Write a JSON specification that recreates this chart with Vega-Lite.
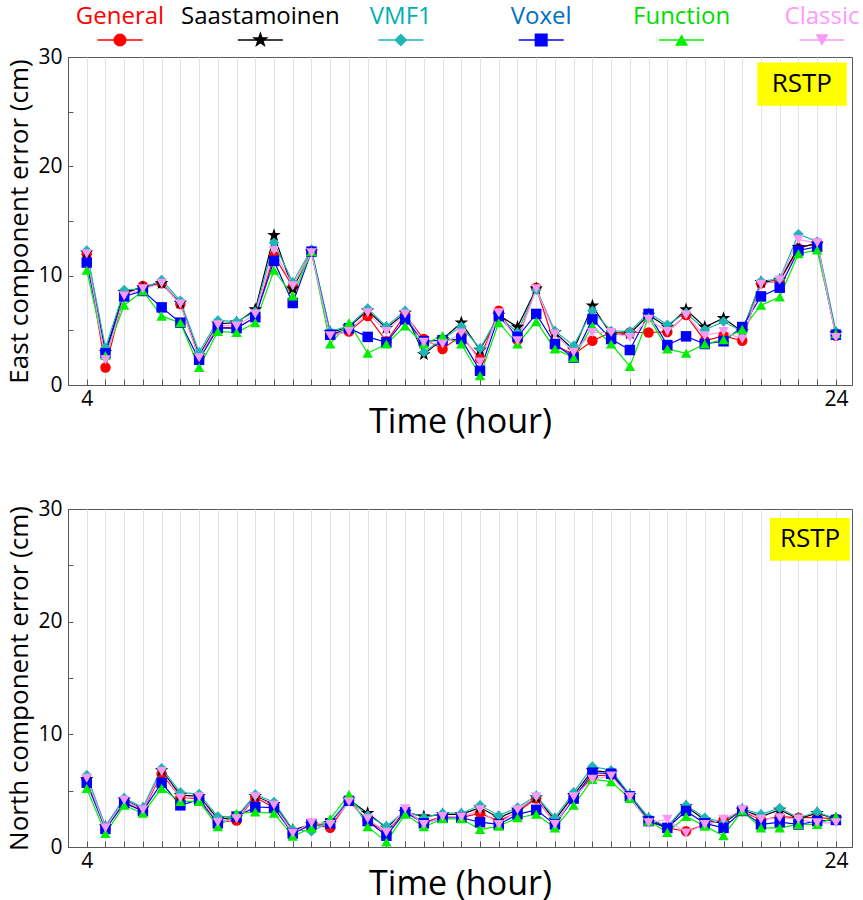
{
  "$schema": "https://vega.github.io/schema/vega-lite/v6.json",
  "padding": {"top": 4, "left": 6, "right": 0, "bottom": 0},
  "background": "white",
  "spacing": -3,
  "config": {
    "font": "Open Sans",
    "view": {"stroke": "#595959", "strokeWidth": 1},
    "axis": {"domainColor": "#595959", "tickColor": "#595959", "labelColor": "#000000", "titleColor": "#000000", "titleFontWeight": "normal", "labelFontSize": 21, "labelFont": "Open Sans", "titleFont": "Open Sans"}
  },
  "datasets": {
    "err": [
      {"c":"E","t":4,"General":12.0,"Saastamoinen":12.1,"VMF1":12.3,"Voxel":11.2,"Function":10.5,"Classic":12.0},
      {"c":"E","t":4.5,"General":1.6,"Saastamoinen":3.0,"VMF1":3.4,"Voxel":2.9,"Function":2.7,"Classic":2.3},
      {"c":"E","t":5,"General":8.3,"Saastamoinen":8.5,"VMF1":8.7,"Voxel":8.1,"Function":7.3,"Classic":8.15},
      {"c":"E","t":5.5,"General":9.05,"Saastamoinen":8.9,"VMF1":8.8,"Voxel":8.6,"Function":8.6,"Classic":8.8},
      {"c":"E","t":6,"General":9.3,"Saastamoinen":9.3,"VMF1":9.6,"Voxel":7.1,"Function":6.3,"Classic":9.3},
      {"c":"E","t":6.5,"General":7.4,"Saastamoinen":7.5,"VMF1":7.7,"Voxel":5.7,"Function":5.7,"Classic":7.4},
      {"c":"E","t":7,"General":2.5,"Saastamoinen":2.7,"VMF1":3.0,"Voxel":2.3,"Function":1.6,"Classic":2.5},
      {"c":"E","t":7.5,"General":5.3,"Saastamoinen":5.6,"VMF1":5.9,"Voxel":5.2,"Function":4.9,"Classic":5.5},
      {"c":"E","t":8,"General":5.2,"Saastamoinen":5.7,"VMF1":5.8,"Voxel":5.2,"Function":4.8,"Classic":5.4},
      {"c":"E","t":8.5,"General":6.2,"Saastamoinen":6.9,"VMF1":6.7,"Voxel":6.2,"Function":5.7,"Classic":6.5},
      {"c":"E","t":9,"General":11.8,"Saastamoinen":13.7,"VMF1":13.0,"Voxel":11.35,"Function":10.5,"Classic":12.3},
      {"c":"E","t":9.5,"General":9.0,"Saastamoinen":8.8,"VMF1":9.4,"Voxel":7.5,"Function":8.15,"Classic":9.07},
      {"c":"E","t":10,"General":12.2,"Saastamoinen":12.2,"VMF1":12.4,"Voxel":12.2,"Function":12.2,"Classic":12.1},
      {"c":"E","t":10.5,"General":4.6,"Saastamoinen":4.8,"VMF1":4.9,"Voxel":4.6,"Function":3.75,"Classic":4.5},
      {"c":"E","t":11,"General":4.9,"Saastamoinen":5.3,"VMF1":5.4,"Voxel":5.2,"Function":5.7,"Classic":4.9},
      {"c":"E","t":11.5,"General":6.3,"Saastamoinen":6.8,"VMF1":7.0,"Voxel":4.4,"Function":2.9,"Classic":6.6},
      {"c":"E","t":12,"General":4.0,"Saastamoinen":5.2,"VMF1":5.35,"Voxel":3.9,"Function":3.75,"Classic":4.9},
      {"c":"E","t":12.5,"General":6.4,"Saastamoinen":6.6,"VMF1":6.8,"Voxel":6.0,"Function":5.4,"Classic":6.5},
      {"c":"E","t":13,"General":4.2,"Saastamoinen":2.8,"VMF1":3.0,"Voxel":4.0,"Function":3.75,"Classic":3.9},
      {"c":"E","t":13.5,"General":3.3,"Saastamoinen":4.2,"VMF1":4.2,"Voxel":4.1,"Function":4.5,"Classic":3.75},
      {"c":"E","t":14,"General":4.5,"Saastamoinen":5.7,"VMF1":5.35,"Voxel":4.2,"Function":3.75,"Classic":4.75},
      {"c":"E","t":14.5,"General":2.4,"Saastamoinen":3.2,"VMF1":3.35,"Voxel":1.3,"Function":0.85,"Classic":2.1},
      {"c":"E","t":15,"General":6.8,"Saastamoinen":6.4,"VMF1":6.3,"Voxel":6.3,"Function":5.7,"Classic":6.6},
      {"c":"E","t":15.5,"General":4.1,"Saastamoinen":5.3,"VMF1":4.8,"Voxel":4.4,"Function":3.75,"Classic":4.05},
      {"c":"E","t":16,"General":8.9,"Saastamoinen":8.8,"VMF1":8.7,"Voxel":6.5,"Function":5.8,"Classic":8.8},
      {"c":"E","t":16.5,"General":3.6,"Saastamoinen":4.8,"VMF1":4.95,"Voxel":3.75,"Function":3.3,"Classic":4.65},
      {"c":"E","t":17,"General":2.8,"Saastamoinen":3.2,"VMF1":3.6,"Voxel":2.5,"Function":2.5,"Classic":3.0},
      {"c":"E","t":17.5,"General":4.05,"Saastamoinen":7.25,"VMF1":6.8,"Voxel":6.0,"Function":5.4,"Classic":4.8},
      {"c":"E","t":18,"General":4.8,"Saastamoinen":4.6,"VMF1":4.95,"Voxel":4.2,"Function":3.75,"Classic":4.8},
      {"c":"E","t":18.5,"General":4.8,"Saastamoinen":4.7,"VMF1":4.9,"Voxel":3.2,"Function":1.7,"Classic":4.35},
      {"c":"E","t":19,"General":4.8,"Saastamoinen":6.4,"VMF1":6.6,"Voxel":6.5,"Function":6.2,"Classic":6.0},
      {"c":"E","t":19.5,"General":4.85,"Saastamoinen":5.3,"VMF1":5.5,"Voxel":3.65,"Function":3.3,"Classic":4.9},
      {"c":"E","t":20,"General":6.4,"Saastamoinen":6.9,"VMF1":6.6,"Voxel":4.45,"Function":2.9,"Classic":6.4},
      {"c":"E","t":20.5,"General":4.05,"Saastamoinen":5.3,"VMF1":5.05,"Voxel":3.75,"Function":3.75,"Classic":4.5},
      {"c":"E","t":21,"General":4.5,"Saastamoinen":6.1,"VMF1":5.8,"Voxel":4.0,"Function":4.15,"Classic":4.9},
      {"c":"E","t":21.5,"General":4.05,"Saastamoinen":4.9,"VMF1":4.9,"Voxel":5.3,"Function":5.1,"Classic":4.2},
      {"c":"E","t":22,"General":9.3,"Saastamoinen":9.4,"VMF1":9.5,"Voxel":8.1,"Function":7.3,"Classic":9.2},
      {"c":"E","t":22.5,"General":9.5,"Saastamoinen":9.6,"VMF1":9.7,"Voxel":8.9,"Function":8.05,"Classic":9.6},
      {"c":"E","t":23,"General":12.5,"Saastamoinen":12.6,"VMF1":13.8,"Voxel":12.3,"Function":12.0,"Classic":13.3},
      {"c":"E","t":23.5,"General":13.0,"Saastamoinen":12.9,"VMF1":13.1,"Voxel":12.65,"Function":12.35,"Classic":13.0},
      {"c":"E","t":24,"General":4.5,"Saastamoinen":4.7,"VMF1":4.9,"Voxel":4.6,"Function":4.7,"Classic":4.35},
      {"c":"N","t":4,"General":6.0,"Saastamoinen":6.0,"VMF1":6.4,"Voxel":5.7,"Function":5.2,"Classic":6.1},
      {"c":"N","t":4.5,"General":1.6,"Saastamoinen":1.8,"VMF1":1.85,"Voxel":1.6,"Function":1.2,"Classic":1.7},
      {"c":"N","t":5,"General":4.0,"Saastamoinen":4.2,"VMF1":4.35,"Voxel":3.9,"Function":3.7,"Classic":4.15},
      {"c":"N","t":5.5,"General":3.2,"Saastamoinen":3.4,"VMF1":3.5,"Voxel":3.2,"Function":3.0,"Classic":3.3},
      {"c":"N","t":6,"General":6.5,"Saastamoinen":6.8,"VMF1":7.0,"Voxel":5.7,"Function":5.2,"Classic":6.7},
      {"c":"N","t":6.5,"General":4.4,"Saastamoinen":4.6,"VMF1":4.85,"Voxel":3.7,"Function":4.05,"Classic":4.35},
      {"c":"N","t":7,"General":4.3,"Saastamoinen":4.5,"VMF1":4.7,"Voxel":4.2,"Function":4.05,"Classic":4.45},
      {"c":"N","t":7.5,"General":2.2,"Saastamoinen":2.5,"VMF1":2.7,"Voxel":2.1,"Function":1.8,"Classic":2.2},
      {"c":"N","t":8,"General":2.35,"Saastamoinen":2.6,"VMF1":2.7,"Voxel":2.7,"Function":3.0,"Classic":2.5},
      {"c":"N","t":8.5,"General":4.4,"Saastamoinen":4.5,"VMF1":4.65,"Voxel":3.55,"Function":3.1,"Classic":4.45},
      {"c":"N","t":9,"General":3.5,"Saastamoinen":3.8,"VMF1":4.0,"Voxel":3.5,"Function":3.0,"Classic":3.7},
      {"c":"N","t":9.5,"General":1.2,"Saastamoinen":1.5,"VMF1":1.55,"Voxel":1.2,"Function":0.95,"Classic":1.25},
      {"c":"N","t":10,"General":2.0,"Saastamoinen":2.0,"VMF1":1.4,"Voxel":2.0,"Function":1.7,"Classic":2.15},
      {"c":"N","t":10.5,"General":1.7,"Saastamoinen":2.1,"VMF1":2.2,"Voxel":2.1,"Function":2.5,"Classic":2.0},
      {"c":"N","t":11,"General":4.1,"Saastamoinen":4.2,"VMF1":4.2,"Voxel":4.1,"Function":4.65,"Classic":4.0},
      {"c":"N","t":11.5,"General":2.3,"Saastamoinen":3.0,"VMF1":2.8,"Voxel":2.3,"Function":1.8,"Classic":2.5},
      {"c":"N","t":12,"General":1.3,"Saastamoinen":1.7,"VMF1":1.85,"Voxel":1.0,"Function":0.45,"Classic":1.3},
      {"c":"N","t":12.5,"General":3.2,"Saastamoinen":3.1,"VMF1":3.2,"Voxel":3.1,"Function":2.9,"Classic":3.4},
      {"c":"N","t":13,"General":2.2,"Saastamoinen":2.7,"VMF1":2.6,"Voxel":2.1,"Function":1.8,"Classic":2.0},
      {"c":"N","t":13.5,"General":2.7,"Saastamoinen":2.9,"VMF1":3.0,"Voxel":2.6,"Function":2.5,"Classic":2.7},
      {"c":"N","t":14,"General":2.6,"Saastamoinen":2.9,"VMF1":3.0,"Voxel":2.6,"Function":2.5,"Classic":2.65},
      {"c":"N","t":14.5,"General":3.0,"Saastamoinen":3.5,"VMF1":3.7,"Voxel":2.2,"Function":1.55,"Classic":3.3},
      {"c":"N","t":15,"General":2.3,"Saastamoinen":2.6,"VMF1":2.8,"Voxel":2.0,"Function":1.85,"Classic":2.0},
      {"c":"N","t":15.5,"General":3.1,"Saastamoinen":3.3,"VMF1":3.5,"Voxel":2.9,"Function":2.6,"Classic":3.3},
      {"c":"N","t":16,"General":4.3,"Saastamoinen":4.4,"VMF1":4.55,"Voxel":3.3,"Function":2.9,"Classic":4.45},
      {"c":"N","t":16.5,"General":2.1,"Saastamoinen":2.4,"VMF1":2.6,"Voxel":2.0,"Function":1.7,"Classic":2.0},
      {"c":"N","t":17,"General":4.3,"Saastamoinen":4.6,"VMF1":4.85,"Voxel":4.3,"Function":3.7,"Classic":4.45},
      {"c":"N","t":17.5,"General":6.3,"Saastamoinen":6.8,"VMF1":7.15,"Voxel":6.6,"Function":6.0,"Classic":6.0},
      {"c":"N","t":18,"General":6.4,"Saastamoinen":6.6,"VMF1":6.8,"Voxel":6.5,"Function":5.8,"Classic":6.3},
      {"c":"N","t":18.5,"General":4.5,"Saastamoinen":4.6,"VMF1":4.65,"Voxel":4.5,"Function":4.3,"Classic":4.45},
      {"c":"N","t":19,"General":2.3,"Saastamoinen":2.5,"VMF1":2.6,"Voxel":2.3,"Function":2.3,"Classic":2.15},
      {"c":"N","t":19.5,"General":1.7,"Saastamoinen":1.7,"VMF1":1.8,"Voxel":1.7,"Function":1.3,"Classic":2.45},
      {"c":"N","t":20,"General":1.4,"Saastamoinen":3.6,"VMF1":3.7,"Voxel":3.2,"Function":2.7,"Classic":1.25},
      {"c":"N","t":20.5,"General":2.0,"Saastamoinen":2.4,"VMF1":2.6,"Voxel":2.1,"Function":1.85,"Classic":2.0},
      {"c":"N","t":21,"General":2.4,"Saastamoinen":2.1,"VMF1":2.2,"Voxel":1.7,"Function":1.0,"Classic":2.45},
      {"c":"N","t":21.5,"General":3.2,"Saastamoinen":3.3,"VMF1":3.4,"Voxel":3.2,"Function":3.2,"Classic":3.3},
      {"c":"N","t":22,"General":2.4,"Saastamoinen":2.7,"VMF1":2.9,"Voxel":2.0,"Function":1.7,"Classic":2.45},
      {"c":"N","t":22.5,"General":2.7,"Saastamoinen":3.3,"VMF1":3.45,"Voxel":2.2,"Function":1.7,"Classic":2.6},
      {"c":"N","t":23,"General":2.6,"Saastamoinen":2.5,"VMF1":2.6,"Voxel":2.0,"Function":2.0,"Classic":2.45},
      {"c":"N","t":23.5,"General":2.6,"Saastamoinen":3.0,"VMF1":3.1,"Voxel":2.3,"Function":2.0,"Classic":2.15},
      {"c":"N","t":24,"General":2.5,"Saastamoinen":2.5,"VMF1":2.5,"Voxel":2.4,"Function":2.7,"Classic":2.15}
    ],
    "names": [
      {"series": "General"}, {"series": "Saastamoinen"}, {"series": "VMF1"}, {"series": "Voxel"}, {"series": "Function"}, {"series": "Classic"}
    ],
    "tag": [{"label": "RSTP"}]
  },
  "vconcat": [
    {
      "width": 784,
      "height": 44,
      "view": {"stroke": null},
      "data": {"name": "names"},
      "encoding": {
        "x": {"field": "series", "type": "nominal", "axis": null,
              "scale": {"type": "point", "domain": ["General","Saastamoinen","VMF1","Voxel","Function","Classic"], "padding": 0.292, "align": 0.634}}
      },
      "layer": [
        {
          "mark": {"type": "point", "shape": "M-1,0L1,0", "filled": false, "size": 2025, "strokeWidth": 1.5, "opacity": 1, "yOffset": 14},
          "encoding": {
            "color": {"field": "series", "type": "nominal", "legend": null,
                      "scale": {"domain": ["General","Saastamoinen","VMF1","Voxel","Function","Classic"], "range": ["#FF0000","#000000","#1FB5B5","#0000FF","#00EE00","#F79AF7"]}}
          }
        },
        {
          "mark": {"type": "point", "filled": true, "size": 170, "opacity": 1, "yOffset": 14},
          "encoding": {
            "color": {"field": "series", "type": "nominal", "legend": null,
                      "scale": {"domain": ["General","Saastamoinen","VMF1","Voxel","Function","Classic"], "range": ["#FF0000","#000000","#1FB5B5","#0000FF","#00EE00","#F79AF7"]}},
            "shape": {"field": "series", "type": "nominal", "legend": null,
                      "scale": {"domain": ["General","Saastamoinen","VMF1","Voxel","Function","Classic"], "range": ["circle","M0,-1.35L0.317,-0.437L1.284,-0.417L0.513,0.167L0.794,1.092L0,0.54L-0.794,1.092L-0.513,0.167L-1.284,-0.417L-0.317,-0.437Z","diamond","square","triangle-up","triangle-down"]}}
          }
        },
        {
          "mark": {"type": "text", "fontSize": 24, "font": "Open Sans", "dy": -9, "baseline": "middle", "align": "center"},
          "encoding": {
            "text": {"field": "series"},
            "fill": {"field": "series", "type": "nominal", "legend": null,
                     "scale": {"domain": ["General","Saastamoinen","VMF1","Voxel","Function","Classic"], "range": ["#FF0000","#000000","#00B0B0","#0070C0","#00DD00","#FF99FF"]}}
          }
        }
      ]
    },
    {
      "spacing": 57,
      "vconcat": [
        {
          "width": 784,
          "height": 328,
          "layer": [
            {
              "data": {"name": "tag"},
              "mark": {"type": "rect", "color": "#FFFF00"},
              "encoding": {
                "x": {"datum": 21.9, "type": "quantitative"}, "x2": {"datum": 24.29},
                "y": {"datum": 29.5, "type": "quantitative"}, "y2": {"datum": 25.55}
              }
            },
            {
              "data": {"name": "tag"},
              "mark": {"type": "text", "fontSize": 26, "font": "Open Sans", "color": "#000000"},
              "encoding": {
                "x": {"datum": 23.09, "type": "quantitative"},
                "y": {"datum": 27.55, "type": "quantitative"},
                "text": {"field": "label"}
              }
            },
            {
              "data": {"name": "err"},
              "transform": [
                {"filter": "datum.c == 'E'"},
                {"fold": ["General","Saastamoinen","VMF1","Voxel","Function","Classic"], "as": ["series","v"]}
              ],
              "layer": [
                {
                  "mark": {"type": "line", "strokeWidth": 1.2},
                  "encoding": {
                    "x": {"field": "t", "type": "quantitative"},
                    "y": {"field": "v", "type": "quantitative"},
                    "color": {"field": "series", "type": "nominal", "legend": null,
                              "scale": {"domain": ["General","Saastamoinen","VMF1","Voxel","Function","Classic"], "range": ["#FF0000","#000000","#1FB5B5","#0000FF","#00EE00","#F79AF7"]}}
                  }
                },
                {
                  "mark": {"type": "point", "filled": true, "size": 110, "opacity": 1},
                  "encoding": {
                    "x": {"field": "t", "type": "quantitative"},
                    "y": {"field": "v", "type": "quantitative"},
                    "color": {"field": "series", "type": "nominal", "legend": null,
                              "scale": {"domain": ["General","Saastamoinen","VMF1","Voxel","Function","Classic"], "range": ["#FF0000","#000000","#1FB5B5","#0000FF","#00EE00","#F79AF7"]}},
                    "shape": {"field": "series", "type": "nominal", "legend": null,
                              "scale": {"domain": ["General","Saastamoinen","VMF1","Voxel","Function","Classic"], "range": ["circle","M0,-1.35L0.317,-0.437L1.284,-0.417L0.513,0.167L0.794,1.092L0,0.54L-0.794,1.092L-0.513,0.167L-1.284,-0.417L-0.317,-0.437Z","diamond","square","triangle-up","triangle-down"]}}
                  }
                }
              ]
            }
          ],
          "encoding": {
            "x": {"type": "quantitative",
                  "scale": {"domain": [3.5, 24.43], "nice": false, "zero": false},
                  "axis": {"title": "Time (hour)", "titleFontSize": 34, "titlePadding": -4,
                           "values": [4,4.5,5,5.5,6,6.5,7,7.5,8,8.5,9,9.5,10,10.5,11,11.5,12,12.5,13,13.5,14,14.5,15,15.5,16,16.5,17,17.5,18,18.5,19,19.5,20,20.5,21,21.5,22,22.5,23,23.5,24],
                           "labelExpr": "datum.value == 4 ? '4' : (datum.value == 24 ? '24' : '')",
                           "labelOverlap": false, "labelFlush": false,
                           "grid": true, "gridColor": "#E3E3E3", "gridWidth": 1,
                           "tickSize": -6, "labelPadding": 9}},
            "y": {"type": "quantitative",
                  "scale": {"domain": [0, 30], "nice": false},
                  "axis": {"title": "East component error (cm)", "titleFontSize": 26, "titlePadding": 5,
                           "values": [0,5,10,15,20,25,30],
                           "labelExpr": "datum.value % 10 == 0 ? datum.label : ''",
                           "grid": false, "tickSize": -5, "labelPadding": 11}}
          }
        },
        {
          "width": 784,
          "height": 338,
          "layer": [
            {
              "data": {"name": "tag"},
              "mark": {"type": "rect", "color": "#FFFF00"},
              "encoding": {
                "x": {"datum": 22.24, "type": "quantitative"}, "x2": {"datum": 24.37},
                "y": {"datum": 29.2, "type": "quantitative"}, "y2": {"datum": 25.4}
              }
            },
            {
              "data": {"name": "tag"},
              "mark": {"type": "text", "fontSize": 26, "font": "Open Sans", "color": "#000000"},
              "encoding": {
                "x": {"datum": 23.31, "type": "quantitative"},
                "y": {"datum": 27.3, "type": "quantitative"},
                "text": {"field": "label"}
              }
            },
            {
              "data": {"name": "err"},
              "transform": [
                {"filter": "datum.c == 'N'"},
                {"fold": ["General","Saastamoinen","VMF1","Voxel","Function","Classic"], "as": ["series","v"]}
              ],
              "layer": [
                {
                  "mark": {"type": "line", "strokeWidth": 1.2},
                  "encoding": {
                    "x": {"field": "t", "type": "quantitative"},
                    "y": {"field": "v", "type": "quantitative"},
                    "color": {"field": "series", "type": "nominal", "legend": null,
                              "scale": {"domain": ["General","Saastamoinen","VMF1","Voxel","Function","Classic"], "range": ["#FF0000","#000000","#1FB5B5","#0000FF","#00EE00","#F79AF7"]}}
                  }
                },
                {
                  "mark": {"type": "point", "filled": true, "size": 110, "opacity": 1},
                  "encoding": {
                    "x": {"field": "t", "type": "quantitative"},
                    "y": {"field": "v", "type": "quantitative"},
                    "color": {"field": "series", "type": "nominal", "legend": null,
                              "scale": {"domain": ["General","Saastamoinen","VMF1","Voxel","Function","Classic"], "range": ["#FF0000","#000000","#1FB5B5","#0000FF","#00EE00","#F79AF7"]}},
                    "shape": {"field": "series", "type": "nominal", "legend": null,
                              "scale": {"domain": ["General","Saastamoinen","VMF1","Voxel","Function","Classic"], "range": ["circle","M0,-1.35L0.317,-0.437L1.284,-0.417L0.513,0.167L0.794,1.092L0,0.54L-0.794,1.092L-0.513,0.167L-1.284,-0.417L-0.317,-0.437Z","diamond","square","triangle-up","triangle-down"]}}
                  }
                }
              ]
            }
          ],
          "encoding": {
            "x": {"type": "quantitative",
                  "scale": {"domain": [3.5, 24.43], "nice": false, "zero": false},
                  "axis": {"title": "Time (hour)", "titleFontSize": 34, "titlePadding": -4,
                           "values": [4,4.5,5,5.5,6,6.5,7,7.5,8,8.5,9,9.5,10,10.5,11,11.5,12,12.5,13,13.5,14,14.5,15,15.5,16,16.5,17,17.5,18,18.5,19,19.5,20,20.5,21,21.5,22,22.5,23,23.5,24],
                           "labelExpr": "datum.value == 4 ? '4' : (datum.value == 24 ? '24' : '')",
                           "labelOverlap": false, "labelFlush": false,
                           "grid": true, "gridColor": "#E3E3E3", "gridWidth": 1,
                           "tickSize": -6, "labelPadding": 9}},
            "y": {"type": "quantitative",
                  "scale": {"domain": [0, 30], "nice": false},
                  "axis": {"title": "North component error (cm)", "titleFontSize": 26, "titlePadding": 5,
                           "values": [0,5,10,15,20,25,30],
                           "labelExpr": "datum.value % 10 == 0 ? datum.label : ''",
                           "grid": false, "tickSize": -5, "labelPadding": 11}}
          }
        }
      ]
    }
  ]
}
